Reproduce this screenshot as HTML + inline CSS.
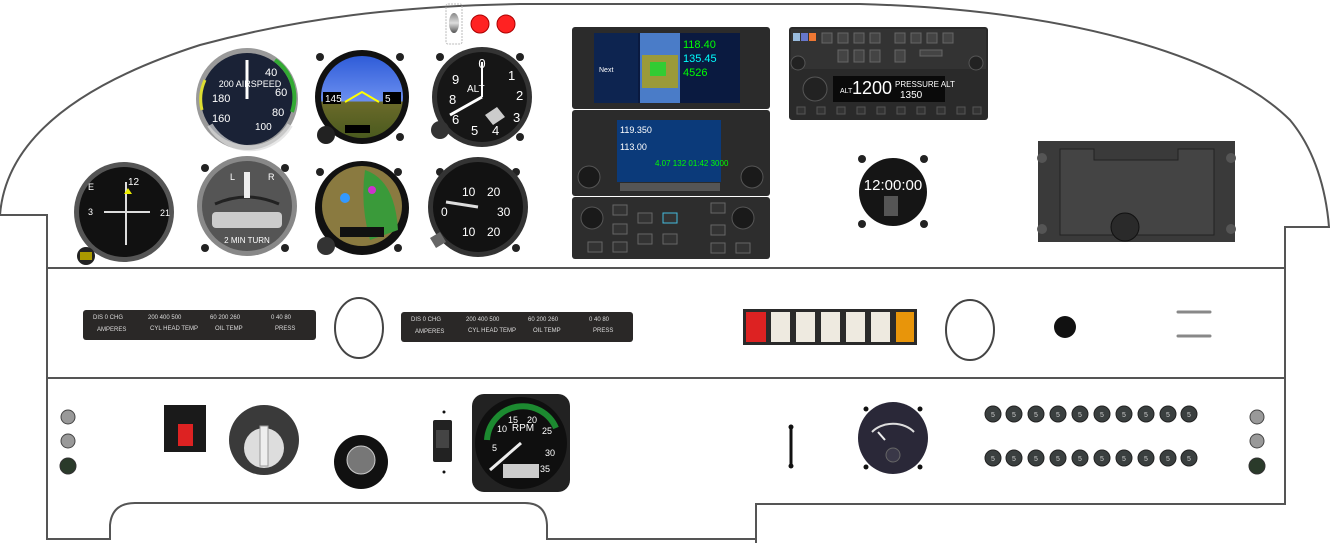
<!DOCTYPE html>
<html><head><meta charset="utf-8"><style>
html,body{margin:0;padding:0;background:#fff;width:1330px;height:543px;overflow:hidden}
svg{display:block}
text{font-family:"Liberation Sans",sans-serif}
</style></head><body>
<svg width="1330" height="543" viewBox="0 0 1330 543" xmlns="http://www.w3.org/2000/svg">
<defs>
<linearGradient id="sky" x1="0" y1="0" x2="0" y2="1"><stop offset="0" stop-color="#2f5cd8"/><stop offset="0.55" stop-color="#6b8ff0"/><stop offset="0.56" stop-color="#6b6a2a"/><stop offset="1" stop-color="#4a5a1e"/></linearGradient>
<linearGradient id="metal" x1="0" y1="0" x2="0" y2="1"><stop offset="0" stop-color="#888"/><stop offset="0.5" stop-color="#ddd"/><stop offset="1" stop-color="#555"/></linearGradient>
</defs>
<path d="M0,215 C5,150 60,90 200,45 C300,18 400,6 520,4 L860,4 C1080,10 1230,60 1290,120 C1315,150 1326,190 1329,227 L1285,227 L1285,504 L756,504 L756,543" fill="none" stroke="#555" stroke-width="2"/>
<path d="M0,215 L47,215 L47,539 L110,539 L110,525 Q112,503 135,503 L525,503 Q546,503 547,525 L547,539 L756,539" fill="none" stroke="#555" stroke-width="2"/>
<line x1="47" y1="268" x2="1285" y2="268" stroke="#555" stroke-width="2"/>
<line x1="47" y1="378" x2="1285" y2="378" stroke="#555" stroke-width="2"/>

<rect x="446" y="4" width="16" height="40" rx="2" fill="none" stroke="#bbb" stroke-dasharray="2,1"/>
<ellipse cx="454" cy="23" rx="5" ry="10" fill="url(#metal)"/>
<circle cx="480" cy="24" r="9" fill="#f22" stroke="#a00"/>
<circle cx="506" cy="24" r="9" fill="#f22" stroke="#a00"/>

<circle cx="247" cy="99" r="51" fill="#9a9a9a"/>
<circle cx="247" cy="99" r="46" fill="#1a2236"/>
<path d="M210,125 A46,46 0 0,0 290,125" fill="none" stroke="#ddd" stroke-width="6" opacity=".7"/>
<path d="M275,60 A46,46 0 0,1 292,112" fill="none" stroke="#3a3" stroke-width="4"/>
<path d="M202,110 A46,46 0 0,1 205,80" fill="none" stroke="#dd3" stroke-width="3"/>
<line x1="247" y1="99" x2="247" y2="60" stroke="#fff" stroke-width="3"/>
<text x="250" y="87" fill="#fff" font-size="9" text-anchor="middle">200 AIRSPEED</text>
<text x="265" y="76" fill="#fff" font-size="11">40</text><text x="275" y="96" fill="#fff" font-size="11">60</text>
<text x="212" y="102" fill="#fff" font-size="11">180</text><text x="272" y="116" fill="#fff" font-size="11">80</text>
<text x="212" y="122" fill="#fff" font-size="11">160</text><text x="255" y="130" fill="#fff" font-size="10">100</text>

<circle cx="320" cy="57" r="4" fill="#222"/><circle cx="400" cy="57" r="4" fill="#222"/><circle cx="400" cy="137" r="4" fill="#222"/>
<circle cx="362" cy="97" r="47" fill="#111"/>
<circle cx="362" cy="97" r="41" fill="url(#sky)"/>
<path d="M345,102 L362,92 L379,102" fill="none" stroke="#ff0" stroke-width="2"/>
<rect x="323" y="92" width="18" height="12" fill="#000"/><text x="325" y="102" fill="#fff" font-size="10">145</text>
<rect x="383" y="92" width="18" height="12" fill="#000"/><text x="385" y="102" fill="#fff" font-size="10">5</text>
<rect x="345" y="125" width="25" height="8" fill="#000"/>
<circle cx="326" cy="135" r="9" fill="#222"/>

<circle cx="440" cy="57" r="4" fill="#222"/><circle cx="520" cy="57" r="4" fill="#222"/><circle cx="520" cy="137" r="4" fill="#222"/>
<circle cx="482" cy="97" r="50" fill="#333"/>
<circle cx="482" cy="97" r="45" fill="#161616"/>
<text x="482" y="68" fill="#fff" font-size="13" text-anchor="middle">0</text>
<text x="508" y="80" fill="#fff" font-size="13">1</text><text x="516" y="100" fill="#fff" font-size="13">2</text>
<text x="513" y="122" fill="#fff" font-size="13">3</text><text x="492" y="135" fill="#fff" font-size="13">4</text>
<text x="471" y="135" fill="#fff" font-size="13">5</text><text x="452" y="124" fill="#fff" font-size="13">6</text>
<text x="449" y="104" fill="#fff" font-size="13">8</text><text x="452" y="84" fill="#fff" font-size="13">9</text>
<text x="467" y="92" fill="#fff" font-size="10">ALT</text>
<line x1="482" y1="97" x2="450" y2="115" stroke="#fff" stroke-width="3"/>
<line x1="482" y1="97" x2="482" y2="62" stroke="#fff" stroke-width="2"/>
<path d="M485,115 l12,-8 l8,10 l-12,8z" fill="#ccc"/>
<circle cx="440" cy="130" r="9" fill="#333"/>

<circle cx="124" cy="212" r="50" fill="#555"/>
<circle cx="124" cy="212" r="45" fill="#111"/>
<line x1="126" y1="182" x2="126" y2="245" stroke="#ddd" stroke-width="2"/>
<line x1="104" y1="212" x2="150" y2="212" stroke="#ddd" stroke-width="2"/>
<path d="M128,188 l-4,6 h8z" fill="#ee0"/>
<text x="128" y="185" fill="#fff" font-size="10">12</text><text x="88" y="190" fill="#fff" font-size="9">E</text>
<text x="160" y="216" fill="#fff" font-size="9">21</text><text x="88" y="215" fill="#fff" font-size="9">3</text>
<circle cx="86" cy="256" r="9" fill="#222"/><rect x="80" y="252" width="12" height="8" fill="#a90"/>

<circle cx="205" cy="168" r="4" fill="#222"/><circle cx="285" cy="168" r="4" fill="#222"/><circle cx="205" cy="248" r="4" fill="#222"/><circle cx="285" cy="248" r="4" fill="#222"/>
<circle cx="247" cy="206" r="50" fill="#888"/>
<circle cx="247" cy="206" r="45" fill="#555"/>
<rect x="212" y="212" width="70" height="16" rx="4" fill="#ccc"/>
<path d="M215,204 Q247,190 279,204" fill="none" stroke="#222" stroke-width="3"/>
<rect x="244" y="172" width="6" height="26" fill="#eee"/>
<text x="230" y="180" fill="#fff" font-size="9">L</text><text x="268" y="180" fill="#fff" font-size="9">R</text>
<text x="247" y="243" fill="#fff" font-size="8" text-anchor="middle">2 MIN TURN</text>

<circle cx="320" cy="172" r="4" fill="#222"/><circle cx="398" cy="172" r="4" fill="#222"/><circle cx="398" cy="248" r="4" fill="#222"/>
<circle cx="362" cy="208" r="47" fill="#111"/>
<circle cx="362" cy="206" r="40" fill="#8a7a40"/>
<path d="M365,170 Q395,180 398,230 L370,240 Q360,205 365,170z" fill="#3a9a3a"/>
<circle cx="345" cy="198" r="5" fill="#39f"/><circle cx="372" cy="190" r="4" fill="#c3c"/>
<rect x="340" y="227" width="44" height="10" fill="#111"/>
<circle cx="326" cy="246" r="9" fill="#333"/>

<circle cx="440" cy="172" r="4" fill="#222"/><circle cx="516" cy="172" r="4" fill="#222"/><circle cx="516" cy="248" r="4" fill="#222"/>
<circle cx="478" cy="207" r="50" fill="#333"/>
<circle cx="478" cy="207" r="45" fill="#121212"/>
<text x="462" y="196" fill="#fff" font-size="12">10</text><text x="487" y="196" fill="#fff" font-size="12">20</text>
<text x="497" y="216" fill="#fff" font-size="12">30</text><text x="441" y="216" fill="#fff" font-size="12">0</text>
<text x="462" y="236" fill="#fff" font-size="12">10</text><text x="487" y="236" fill="#fff" font-size="12">20</text>
<line x1="478" y1="207" x2="446" y2="202" stroke="#ddd" stroke-width="3"/>
<path d="M430,238 l10,-6 l6,10 l-10,6z" fill="#666"/>

<rect x="572" y="27" width="198" height="82" rx="3" fill="#2b2b2b"/>
<rect x="594" y="33" width="146" height="70" fill="#0a1a40"/>
<rect x="594" y="33" width="44" height="70" fill="#0d2450"/>
<rect x="640" y="33" width="40" height="70" fill="#4a7cc8"/>
<rect x="642" y="55" width="36" height="33" fill="#9a9a3a"/>
<rect x="650" y="62" width="16" height="14" fill="#3c3"/>
<text x="683" y="48" fill="#0f0" font-size="11">118.40</text>
<text x="683" y="62" fill="#0ff" font-size="11">135.45</text>
<text x="683" y="76" fill="#0f0" font-size="11">4526</text>
<text x="599" y="72" fill="#fff" font-size="7">Next</text>
<rect x="572" y="110" width="198" height="86" rx="3" fill="#2b2b2b"/>
<rect x="617" y="120" width="104" height="62" fill="#0b3a7a"/>
<text x="620" y="133" fill="#fff" font-size="9">119.350</text>
<text x="620" y="150" fill="#fff" font-size="9">113.00</text>
<text x="655" y="166" fill="#0f0" font-size="8">4.07 132 01:42 3000</text>
<circle cx="589" cy="177" r="11" fill="#1a1a1a" stroke="#555"/>
<circle cx="752" cy="177" r="11" fill="#1a1a1a" stroke="#555"/>
<rect x="620" y="183" width="100" height="8" fill="#555"/>
<rect x="572" y="197" width="198" height="62" rx="3" fill="#2d2d2d"/>
<circle cx="592" cy="218" r="11" fill="#1a1a1a" stroke="#555"/>
<circle cx="743" cy="218" r="11" fill="#1a1a1a" stroke="#555"/>
<rect x="613" y="205" width="14" height="10" fill="#333" stroke="#666"/><rect x="613" y="224" width="14" height="10" fill="#333" stroke="#666"/><rect x="613" y="242" width="14" height="10" fill="#333" stroke="#666"/>
<rect x="588" y="242" width="14" height="10" fill="#333" stroke="#666"/>
<rect x="638" y="213" width="14" height="10" fill="#333" stroke="#666"/><rect x="663" y="213" width="14" height="10" fill="#333" stroke="#4bd"/>
<rect x="638" y="234" width="14" height="10" fill="#333" stroke="#666"/><rect x="663" y="234" width="14" height="10" fill="#333" stroke="#666"/>
<rect x="711" y="203" width="14" height="10" fill="#333" stroke="#666"/><rect x="711" y="225" width="14" height="10" fill="#333" stroke="#666"/><rect x="711" y="243" width="14" height="10" fill="#333" stroke="#666"/><rect x="736" y="243" width="14" height="10" fill="#333" stroke="#666"/>

<rect x="789" y="27" width="199" height="93" rx="3" fill="#2a2a2a"/>
<rect x="791" y="29" width="195" height="40" fill="#333"/>
<rect x="793" y="33" width="7" height="8" fill="#9bd"/><rect x="801" y="33" width="7" height="8" fill="#67c"/><rect x="809" y="33" width="7" height="8" fill="#e73"/>
<g fill="#444" stroke="#666">
<rect x="822" y="33" width="10" height="10"/><rect x="838" y="33" width="10" height="10"/><rect x="854" y="33" width="10" height="10"/><rect x="870" y="33" width="10" height="10"/><rect x="895" y="33" width="10" height="10"/><rect x="911" y="33" width="10" height="10"/><rect x="927" y="33" width="10" height="10"/><rect x="943" y="33" width="10" height="10"/>
<rect x="838" y="50" width="10" height="12"/><rect x="854" y="50" width="10" height="12"/><rect x="870" y="50" width="10" height="12"/><rect x="895" y="50" width="10" height="12"/><rect x="920" y="50" width="22" height="6"/>
</g>
<circle cx="798" cy="63" r="7" fill="#222" stroke="#555"/><circle cx="976" cy="63" r="7" fill="#222" stroke="#555"/>
<rect x="833" y="76" width="112" height="26" fill="#0a0a0a"/>
<text x="840" y="93" fill="#fff" font-size="7">ALT</text>
<text x="852" y="94" fill="#fff" font-size="18">1200</text>
<text x="895" y="87" fill="#fff" font-size="8">PRESSURE ALT</text>
<text x="900" y="98" fill="#fff" font-size="10">1350</text>
<circle cx="815" cy="89" r="12" fill="#222" stroke="#555"/>
<g fill="#333" stroke="#555"><rect x="797" y="107" width="8" height="7"/><rect x="817" y="107" width="8" height="7"/><rect x="837" y="107" width="8" height="7"/><rect x="857" y="107" width="8" height="7"/><rect x="877" y="107" width="8" height="7"/><rect x="897" y="107" width="8" height="7"/><rect x="917" y="107" width="8" height="7"/><rect x="937" y="107" width="8" height="7"/><rect x="957" y="107" width="8" height="7"/><rect x="973" y="107" width="8" height="7"/></g>

<circle cx="862" cy="159" r="4" fill="#222"/><circle cx="924" cy="159" r="4" fill="#222"/><circle cx="862" cy="224" r="4" fill="#222"/><circle cx="924" cy="224" r="4" fill="#222"/>
<circle cx="893" cy="192" r="34" fill="#151515"/>
<text x="893" y="190" fill="#fff" font-size="15" text-anchor="middle">12:00:00</text>
<rect x="884" y="196" width="14" height="20" fill="#555"/>

<rect x="1038" y="141" width="197" height="101" fill="#3a3a3a"/>
<path d="M1060,149 H1094 V160 H1178 V149 H1214 V235 H1060 Z" fill="#444" stroke="#222"/>
<circle cx="1125" cy="227" r="14" fill="#2a2a2a" stroke="#111"/>
<circle cx="1042" cy="158" r="5" fill="#555"/><circle cx="1231" cy="158" r="5" fill="#555"/><circle cx="1042" cy="229" r="5" fill="#555"/><circle cx="1231" cy="229" r="5" fill="#555"/>

<g font-size="6" fill="#ddd">
<rect x="83" y="310" width="233" height="30" rx="3" fill="#2a2827"/>
<text x="93" y="319">DIS  0  CHG</text><text x="148" y="319">200 400 500</text><text x="210" y="319">60 200 260</text><text x="271" y="319">0 40 80</text>
<text x="97" y="331">AMPERES</text><text x="150" y="330">CYL HEAD TEMP</text><text x="215" y="330">OIL TEMP</text><text x="275" y="330">PRESS</text>
<rect x="401" y="312" width="232" height="30" rx="3" fill="#2a2827"/>
<text x="411" y="321">DIS  0  CHG</text><text x="466" y="321">200 400 500</text><text x="528" y="321">60 200 260</text><text x="589" y="321">0 40 80</text>
<text x="415" y="333">AMPERES</text><text x="468" y="332">CYL HEAD TEMP</text><text x="533" y="332">OIL TEMP</text><text x="593" y="332">PRESS</text>
</g>
<ellipse cx="359" cy="328" rx="24" ry="30" fill="none" stroke="#444" stroke-width="2"/>
<rect x="743" y="309" width="174" height="36" fill="#2a2a2a"/>
<rect x="746" y="312" width="20" height="30" fill="#d22"/>
<rect x="771" y="312" width="19" height="30" fill="#eeeae0"/><rect x="796" y="312" width="19" height="30" fill="#eeeae0"/><rect x="821" y="312" width="19" height="30" fill="#eeeae0"/><rect x="846" y="312" width="19" height="30" fill="#eeeae0"/><rect x="871" y="312" width="19" height="30" fill="#eeeae0"/>
<rect x="896" y="312" width="18" height="30" fill="#e8950a"/>
<ellipse cx="970" cy="330" rx="24" ry="30" fill="none" stroke="#444" stroke-width="2"/>
<circle cx="1065" cy="327" r="11" fill="#111"/>
<line x1="1178" y1="312" x2="1210" y2="312" stroke="#888" stroke-width="3" stroke-linecap="round"/>
<line x1="1178" y1="336" x2="1210" y2="336" stroke="#888" stroke-width="3" stroke-linecap="round"/>

<circle cx="68" cy="417" r="7" fill="#999" stroke="#444"/><circle cx="68" cy="441" r="7" fill="#999" stroke="#444"/><circle cx="68" cy="466" r="8" fill="#2a3a2a" stroke="#333"/>
<circle cx="1257" cy="417" r="7" fill="#999" stroke="#444"/><circle cx="1257" cy="441" r="7" fill="#999" stroke="#444"/><circle cx="1257" cy="466" r="8" fill="#2a3a2a" stroke="#333"/>
<rect x="164" y="405" width="42" height="47" fill="#1a1a1a"/>
<rect x="178" y="424" width="15" height="22" fill="#d22"/>
<circle cx="264" cy="440" r="35" fill="#3a3a3a"/>
<circle cx="264" cy="448" r="20" fill="#ddd"/>
<rect x="260" y="426" width="8" height="40" fill="#eee" stroke="#999"/>
<circle cx="361" cy="462" r="27" fill="#111"/>
<circle cx="361" cy="460" r="14" fill="#777" stroke="#ccc"/>
<circle cx="444" cy="412" r="1.5" fill="#111"/><rect x="433" y="420" width="19" height="42" rx="2" fill="#222"/><rect x="436" y="430" width="13" height="18" fill="#444"/><circle cx="444" cy="472" r="1.5" fill="#111"/>
<rect x="472" y="394" width="98" height="98" rx="12" fill="#222"/>
<circle cx="521" cy="443" r="46" fill="#0f0f0f"/>
<path d="M487,440 A36,36 0 0,1 556,428" fill="none" stroke="#1c8a30" stroke-width="6"/>
<text x="523" y="431" fill="#fff" font-size="10" text-anchor="middle">RPM</text>
<text x="508" y="423" fill="#fff" font-size="9">15</text><text x="527" y="423" fill="#fff" font-size="9">20</text><text x="542" y="434" fill="#fff" font-size="9">25</text>
<text x="497" y="432" fill="#fff" font-size="9">10</text><text x="492" y="451" fill="#fff" font-size="9">5</text><text x="545" y="456" fill="#fff" font-size="9">30</text><text x="540" y="472" fill="#fff" font-size="9">35</text>
<line x1="521" y1="443" x2="490" y2="470" stroke="#eee" stroke-width="3"/>
<rect x="503" y="464" width="36" height="14" fill="#ccc"/>
<line x1="791" y1="427" x2="791" y2="466" stroke="#111" stroke-width="3"/>
<circle cx="791" cy="427" r="2.5" fill="#111"/><circle cx="791" cy="466" r="2.5" fill="#111"/>
<circle cx="866" cy="409" r="2.5" fill="#111"/><circle cx="920" cy="409" r="2.5" fill="#111"/><circle cx="866" cy="467" r="2.5" fill="#111"/><circle cx="920" cy="467" r="2.5" fill="#111"/>
<ellipse cx="893" cy="438" rx="35" ry="36" fill="#2a2838"/>
<path d="M872,432 A26,20 0 0,1 914,432" fill="none" stroke="#ddd" stroke-width="2"/>
<line x1="878" y1="432" x2="885" y2="440" stroke="#eee" stroke-width="2"/>
<circle cx="893" cy="455" r="7" fill="#3a3848" stroke="#666"/>
<g fill="#3a3f3f" stroke="#222">
<circle cx="993" cy="414" r="8"/><circle cx="1014" cy="414" r="8"/><circle cx="1036" cy="414" r="8"/><circle cx="1058" cy="414" r="8"/><circle cx="1080" cy="414" r="8"/><circle cx="1102" cy="414" r="8"/><circle cx="1124" cy="414" r="8"/><circle cx="1146" cy="414" r="8"/><circle cx="1168" cy="414" r="8"/><circle cx="1189" cy="414" r="8"/>
<circle cx="993" cy="458" r="8"/><circle cx="1014" cy="458" r="8"/><circle cx="1036" cy="458" r="8"/><circle cx="1058" cy="458" r="8"/><circle cx="1080" cy="458" r="8"/><circle cx="1102" cy="458" r="8"/><circle cx="1124" cy="458" r="8"/><circle cx="1146" cy="458" r="8"/><circle cx="1168" cy="458" r="8"/><circle cx="1189" cy="458" r="8"/>
</g>
<g fill="#ccc" font-size="7" text-anchor="middle">
<text x="993" y="417">5</text><text x="1014" y="417">5</text><text x="1036" y="417">5</text><text x="1058" y="417">5</text><text x="1080" y="417">5</text><text x="1102" y="417">5</text><text x="1124" y="417">5</text><text x="1146" y="417">5</text><text x="1168" y="417">5</text><text x="1189" y="417">5</text>
<text x="993" y="461">5</text><text x="1014" y="461">5</text><text x="1036" y="461">5</text><text x="1058" y="461">5</text><text x="1080" y="461">5</text><text x="1102" y="461">5</text><text x="1124" y="461">5</text><text x="1146" y="461">5</text><text x="1168" y="461">5</text><text x="1189" y="461">5</text>
</g>
</svg>
</body></html>
